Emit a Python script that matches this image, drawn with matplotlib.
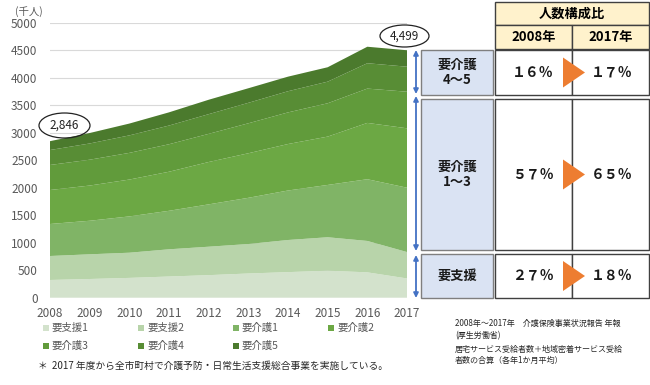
import matplotlib
matplotlib.use('Agg')
import matplotlib.pyplot as plt
from matplotlib.patches import Rectangle, Ellipse, Polygon

plt.rcParams['font.family'] = ['Noto Sans CJK JP', 'DejaVu Sans']

# data (千人)
years = list(range(2008, 2018))
shien1 = [322, 340, 360, 385, 410, 440, 465, 491, 461, 350]
shien2 = [436, 449, 458, 495, 517, 536, 584, 608, 571, 480]
kaigo1 = [582, 610, 660, 700, 770, 840, 900, 951, 1122, 1170]
kaigo2 = [618, 640, 670, 710, 770, 810, 845, 879, 1024, 1080]
kaigo3 = [455, 470, 485, 500, 512, 545, 575, 606, 624, 665]
kaigo4 = [272, 295, 318, 340, 358, 372, 385, 393, 461, 455]
kaigo5 = [161, 190, 215, 240, 262, 265, 265, 262, 300, 299]
layers = [shien1, shien2, kaigo1, kaigo2, kaigo3, kaigo4, kaigo5]
names = ['要支援1', '要支援2', '要介護1', '要介護2', '要介護3', '要介護4', '要介護5']
colors = ['#d3e2cc', '#b8d4aa', '#80b466', '#6ca844', '#619b3b', '#588d35', '#4b7a2d']

# share table
groups = ['要介護\n4～5', '要介護\n1～3', '要支援']
share_2008 = ['１６％', '５７％', '２７％']
share_2017 = ['１７％', '６５％', '１８％']

fig = plt.figure(figsize=(6.5, 3.85), dpi=100)
W, H = 650, 385
ax = fig.add_axes([50 / W, 1 - 297.7 / H, 357 / W, 275 / H])
ax.stackplot(years, *layers, colors=colors, labels=names, linewidth=0)
ax.set_xlim(2008, 2017)
ax.set_ylim(0, 5000)
ax.set_xticks(years)
ax.set_yticks(range(0, 5001, 500))
ax.grid(axis='y', color='#d9d9d9', lw=0.8)
ax.set_axisbelow(True)
for s in ax.spines.values():
    s.set_visible(False)
ax.tick_params(length=0, labelsize=8.5, colors='#595959')
ax.tick_params(axis='x', pad=7)
ax.tick_params(axis='y', pad=9)

# overlay in pixel coords
ov = fig.add_axes([0, 0, 1, 1], zorder=5)
ov.set_xlim(0, W)
ov.set_ylim(H, 0)
ov.axis('off')
ov.patch.set_alpha(0)

ov.text(29, 12, '(千人)', fontsize=7.5, color='#595959', ha='center', va='center')

# total labels
tot_first = sum(l[0] for l in layers)
tot_last = sum(l[-1] for l in layers)
ov.add_patch(Ellipse((64.5, 125.5), 51, 25, fill=False, ec='#222222', lw=0.9))
ov.text(64.5, 125.5, f'{tot_first:,}', fontsize=8.5, color='#222222', ha='center', va='center')
ov.add_patch(Ellipse((404.5, 36), 49, 22, fill=False, ec='#222222', lw=0.9))
ov.text(404.5, 36, f'{tot_last:,}', fontsize=8.5, color='#222222', ha='center', va='center')

# blue range arrows
for y1, y2 in [(50, 94), (96, 251), (255, 298)]:
    ov.annotate('', xy=(416, y1), xytext=(416, y2),
                arrowprops=dict(arrowstyle='<|-|>', color='#4472c4', lw=1.3,
                                mutation_scale=7, shrinkA=0, shrinkB=0))

# table header
ov.add_patch(Rectangle((495, 2), 154, 23, fc='#fff2cc', ec='#404040', lw=1))
ov.text(572, 14, '人数構成比', fontsize=9.5, fontweight='bold', ha='center', va='center')
ov.add_patch(Rectangle((495, 25), 77, 24, fc='#fff2cc', ec='#404040', lw=1))
ov.add_patch(Rectangle((572, 25), 77, 24, fc='#fff2cc', ec='#404040', lw=1))
ov.text(533.5, 37, '2008年', fontsize=9.5, fontweight='bold', ha='center', va='center')
ov.text(610.5, 37, '2017年', fontsize=9.5, fontweight='bold', ha='center', va='center')

rows = [(50, 95), (99, 250), (254, 298)]
for (top, bot), g, a, b in zip(rows, groups, share_2008, share_2017):
    mid = (top + bot) / 2
    ov.add_patch(Rectangle((421, top), 72, bot - top, fc='#dae3f3', ec='#7f7f7f', lw=1))
    ov.text(457, mid, g, fontsize=9.5, fontweight='bold', ha='center', va='center',
            linespacing=1.15, color='#1a1a1a')
    ov.add_patch(Rectangle((495, top), 77, bot - top, fc='white', ec='#404040', lw=1))
    ov.add_patch(Rectangle((572, top), 77, bot - top, fc='white', ec='#404040', lw=1))
    ov.text(533, mid, a, fontsize=10, fontweight='bold', ha='center', va='center', color='#1a1a1a')
    ov.text(612, mid, b, fontsize=10, fontweight='bold', ha='center', va='center', color='#1a1a1a')
    ov.add_patch(Polygon([(563, mid - 15), (563, mid + 15), (585, mid)],
                         closed=True, fc='#ed7d31', ec='none', zorder=6))

# legend
for i, (name, c) in enumerate(zip(names, colors)):
    x = 43 + (i % 4) * 95
    y = 328 + (i // 4) * 18
    ov.add_patch(Rectangle((x, y - 3), 6, 6, fc=c, ec='none'))
    ov.text(x + 9, y, name, fontsize=7.5, color='#595959', va='center')

ov.text(38, 366, '＊  2017 年度から全市町村で介護予防・日常生活支援総合事業を実施している。',
        fontsize=7, color='#262626', va='center')

src = ['2008年～2017年　介護保険事業状況報告 年報', '(厚生労働省)',
       '居宅サービス受給者数＋地域密着サービス受給', '者数の合算（各年1か月平均）']
for j, t in enumerate(src):
    ov.text(455, [323, 336, 349, 360][j], t, fontsize=5.8, color='#262626', va='center')

fig.savefig('out.png', dpi=100)
